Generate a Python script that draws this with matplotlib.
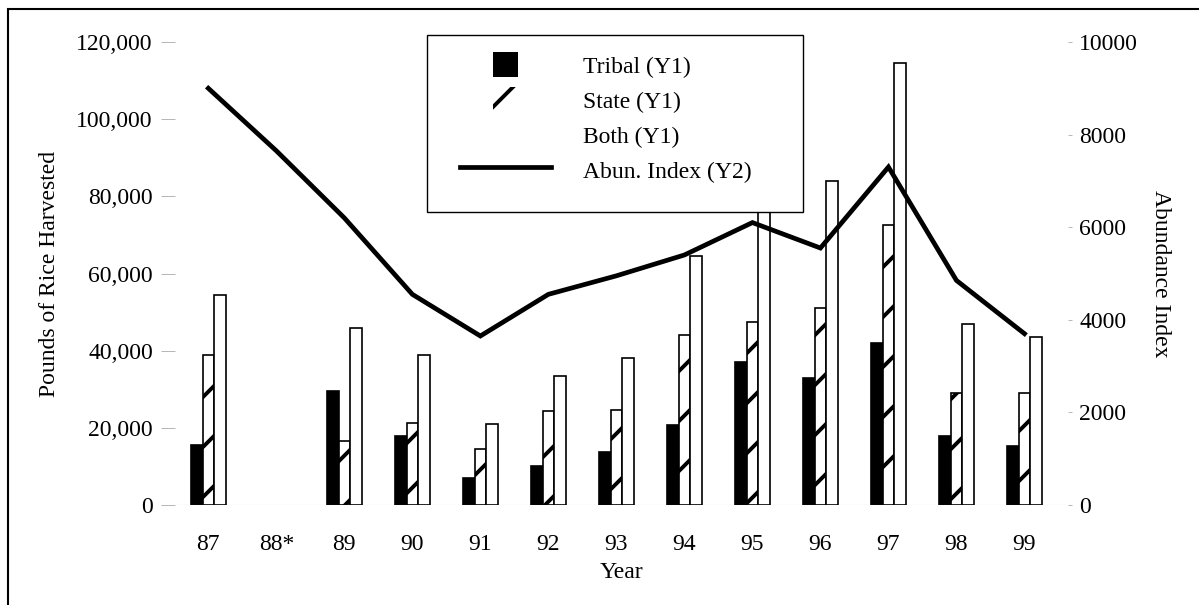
import matplotlib
matplotlib.use("Agg")
import matplotlib.pyplot as plt
import numpy as np
from matplotlib.patches import Patch, Rectangle
from matplotlib.lines import Line2D
from matplotlib.legend_handler import HandlerPatch
from matplotlib.path import Path
from matplotlib.backend_bases import GraphicsContextBase

nan = np.nan
years = ["87", "88*", "89", "90", "91", "92", "93", "94", "95", "96", "97", "98", "99"]
tribal = [15500, nan, 29500, 18000, 7000, 10200, 13800, 20700, 37000, 33000, 42000, 18000, 15200]
state = [39000, nan, 16500, 21200, 14500, 24300, 24500, 44000, 47500, 51000, 72500, 29000, 29000]
both = [54500, nan, 46000, 39000, 21000, 33500, 38000, 64500, 90000, 84000, 114500, 47000, 43500]
abundance = [9000, 7650, 6200, 4550, 3650, 4550, 4950, 5400, 6100, 5550, 7300, 4850, 3700]


# sparser hatch stripes than matplotlib's default density
def sparse_hatch_path(self, density=4.0):
    hatch = self.get_hatch()
    if hatch is None:
        return None
    return Path.hatch(hatch, density)


GraphicsContextBase.get_hatch_path = sparse_hatch_path

plt.rcParams['font.family'] = ['Liberation Serif', 'DejaVu Serif']
plt.rcParams['font.size'] = 17
plt.rcParams['hatch.linewidth'] = 2.8

W, H = 1199, 605
fig = plt.figure(figsize=(W / 100, H / 100), dpi=100)
ax = fig.add_axes([175 / W, 1 - 505 / H, (1068 - 175) / W, (505 - 42) / H])
ax2 = ax.twinx()

x = np.arange(len(years))
w = 0.17
ax.bar(x - w, tribal, w, color='black', edgecolor='black', linewidth=1.2)
ax.bar(x, state, w, color='white', edgecolor='black', linewidth=1.2, hatch='/')
ax.bar(x + w, both, w, color='white', edgecolor='black', linewidth=1.2)
ax.axhline(0, color='gray', linestyle=':', linewidth=0.8)

ax2.plot(x, abundance, color='black', linewidth=3.4, solid_joinstyle='miter')

ax.set_xlim(-0.49, 12.64)
ax.set_ylim(0, 120000)
ax2.set_ylim(0, 10000)
ax.set_yticks(np.arange(0, 120001, 20000))
ax.set_yticklabels(['{:,}'.format(v) for v in range(0, 120001, 20000)])
ax2.set_yticks(np.arange(0, 10001, 2000))
ax.set_xticks(x)
ax.set_xticklabels(years)

for a in (ax, ax2):
    for s in a.spines.values():
        s.set_visible(False)
ax.tick_params(axis='y', length=10, width=0.6, color='#aaaaaa', pad=6)
ax.tick_params(axis='x', length=0, pad=21)
ax2.tick_params(axis='y', length=3, width=0.6, color='#aaaaaa', pad=5)

ax.set_xlabel('Year', labelpad=5)
ax.set_ylabel('Pounds of Rice Harvested', labelpad=12)
ax2.set_ylabel('Abundance Index', rotation=270, labelpad=24)


def narrow_box(legend, orig_handle, xdescent, ydescent, width, height, fontsize):
    bw = height * 1.0
    return Rectangle((width / 2 - bw / 2 - xdescent, -ydescent), bw, height)


handles = [Patch(facecolor='black'),
           Patch(facecolor='white', hatch='/'),
           Patch(facecolor='white'),
           Line2D([], [], color='black', linewidth=3.4)]
labels = ['Tribal (Y1)', 'State (Y1)', 'Both (Y1)', 'Abun. Index (Y2)']

# legend frame
fig.add_artist(Rectangle((427 / W, 1 - 212 / H), (803 - 427) / W, (212 - 35) / H,
                         transform=fig.transFigure, facecolor='white',
                         edgecolor='black', linewidth=1.0, zorder=3))
fig.legend(handles, labels, loc='upper left', bbox_to_anchor=(460 / W, 1 - 52 / H),
           bbox_transform=fig.transFigure, frameon=False, borderpad=0,
           borderaxespad=0, handlelength=3.85, handleheight=1.27,
           labelspacing=0.4, handletextpad=1.35,
           handler_map={Patch: HandlerPatch(patch_func=narrow_box)})

# border around the whole figure (right and bottom edges fall outside)
fig.add_artist(Rectangle((8 / W, -0.05), 1.1, 1.05 - 9 / H, transform=fig.transFigure,
                         fill=False, edgecolor='black', linewidth=1.5))

fig.savefig('out.png', dpi=100)
